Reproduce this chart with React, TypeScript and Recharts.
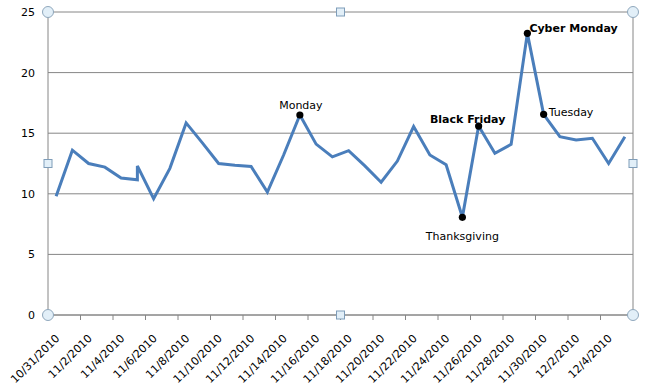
import React from 'react';
import { LineChart, Line, XAxis, YAxis, CartesianGrid, ReferenceLine, ReferenceDot, LabelList } from 'recharts';

const dayLabels = [
  '10/31/2010', '11/1/2010', '11/2/2010', '11/3/2010', '11/4/2010', '11/5/2010', '11/6/2010',
  '11/7/2010', '11/8/2010', '11/9/2010', '11/10/2010', '11/11/2010', '11/12/2010', '11/13/2010',
  '11/14/2010', '11/15/2010', '11/16/2010', '11/17/2010', '11/18/2010', '11/19/2010', '11/20/2010',
  '11/21/2010', '11/22/2010', '11/23/2010', '11/24/2010', '11/25/2010', '11/26/2010', '11/27/2010',
  '11/28/2010', '11/29/2010', '11/30/2010', '12/1/2010', '12/2/2010', '12/3/2010', '12/4/2010', '12/5/2010',
];

// day index (into dayLabels) of each recorded point; 11/5 has two readings
const pointDays = [
  0, 1, 2, 3, 4, 5, 5, 6, 7, 8, 9, 10, 11, 12, 13, 14, 15, 16, 17, 18, 19,
  20, 21, 22, 23, 24, 25, 26, 27, 28, 29, 30, 31, 32, 33, 34, 35,
];

const pointValues = [
  9.8, 13.6, 12.5, 12.2, 11.3, 11.15, 12.3, 9.6, 12.1, 15.85, 14.2, 12.5, 12.35, 12.25, 10.15, 13.2,
  16.5, 14.1, 13.05, 13.56, 12.3, 10.95, 12.7, 15.55, 13.2, 12.4, 8.06, 15.59, 13.34, 14.08, 23.24,
  16.56, 14.71, 14.44, 14.58, 12.5, 14.71,
];

const noteDays = [15, 25, 26, 29, 30];
const noteTexts = ['Monday', 'Thanksgiving', 'Black Friday', 'Cyber Monday', 'Tuesday'];

const yTicks = [0, 5, 10, 15, 20, 25];

const FONT = "'DejaVu Sans', Verdana, sans-serif";
const GRID = '#868686';
const LINE = '#4A7EBB';

const data = pointDays.map((d, i) => {
  const n = noteDays.indexOf(d);
  return { day: d, value: pointValues[i], note: n >= 0 ? noteTexts[n] : '' };
});

const xMin = -0.5;
const xMax = dayLabels.length - 0.5;
const boundaryTicks: number[] = [];
for (let i = 0; i <= dayLabels.length; i += 2) boundaryTicks.push(i - 0.5);

function DateTick(props: any) {
  const { x, y, payload, width } = props;
  const idx = Math.round(payload.value + 0.5);
  const label = dayLabels[idx];
  if (!label) return <g />;
  const w = typeof width === 'number' ? width : 585;
  const half = w / dayLabels.length / 2;
  const ax = x + half + 4;
  const ay = y + 17;
  return (
    <text x={ax} y={ay} transform={`rotate(-45 ${ax} ${ay})`} textAnchor="end" fontSize={11} fontFamily={FONT} fill="#000">
      {label}
    </text>
  );
}

const placements: Record<string, { dx: number; dy: number; anchor: string; bold: boolean }> = {
  Monday: { dx: 1, dy: -6, anchor: 'middle', bold: false },
  Thanksgiving: { dx: 0, dy: 23, anchor: 'middle', bold: false },
  'Black Friday': { dx: -11, dy: -3, anchor: 'middle', bold: true },
  'Cyber Monday': { dx: 2, dy: -1.5, anchor: 'start', bold: true },
  Tuesday: { dx: 5, dy: 1.5, anchor: 'start', bold: false },
};

function renderNote(props: any) {
  const { value, viewBox } = props;
  if (!value) return null;
  const x = props.x ?? viewBox?.x;
  const y = props.y ?? viewBox?.y;
  const p = placements[value];
  if (!p) return null;
  return (
    <text x={x + p.dx} y={y + p.dy} textAnchor={p.anchor as any} fontSize={11} fontFamily={FONT}
      fontWeight={p.bold ? 'bold' : 'normal'} fill="#000">
      {value}
    </text>
  );
}

function renderDot(props: any) {
  const { cx, cy, payload, index } = props;
  if (!payload || !payload.note) return <g key={`d${index}`} />;
  return <circle key={`d${index}`} cx={cx} cy={cy} r={3.6} fill="#000" />;
}

const CornerHandle = (props: any) => (
  <circle cx={props.cx} cy={props.cy} r={5.5} fill="#E2EFF8" stroke="#8FA7BC" strokeWidth={1} />
);
const SideHandle = (props: any) => (
  <rect x={props.cx - 4} y={props.cy - 4} width={8} height={8} fill="#E2EFF8" stroke="#7F9DB9" strokeWidth={1} />
);

export default function App() {
  return (
    <div style={{ position: 'absolute', left: 0, top: 0, background: '#fff' }}>
      <LineChart width={648} height={386} data={data} margin={{ top: 12, right: 15, bottom: 0, left: 0 }}>
        <CartesianGrid horizontal vertical={false} stroke={GRID} strokeWidth={1} />
        <XAxis
          type="number"
          dataKey="day"
          domain={[xMin, xMax]}
          ticks={boundaryTicks}
          interval={0}
          allowDataOverflow
          height={71}
          stroke={GRID}
          tickSize={5}
          tick={<DateTick />}
        />
        <YAxis
          domain={[0, 25]}
          ticks={yTicks}
          interval={0}
          width={48}
          tickLine={false}
          stroke={GRID}
          tickMargin={7}
          tick={{ fill: '#000', fontSize: 11, fontFamily: FONT }}
        />
        <ReferenceLine x={xMax} stroke={GRID} />
        <Line
          type="linear"
          dataKey="value"
          stroke={LINE}
          strokeWidth={3}
          dot={renderDot}
          activeDot={false}
          isAnimationActive={false}
        >
          <LabelList dataKey="note" content={renderNote} />
        </Line>
        <ReferenceDot x={xMin} y={25} r={5.5} shape={CornerHandle} />
        <ReferenceDot x={xMax} y={25} r={5.5} shape={CornerHandle} />
        <ReferenceDot x={xMin} y={0} r={5.5} shape={CornerHandle} />
        <ReferenceDot x={xMax} y={0} r={5.5} shape={CornerHandle} />
        <ReferenceDot x={(xMin + xMax) / 2} y={25} r={4} shape={SideHandle} />
        <ReferenceDot x={(xMin + xMax) / 2} y={0} r={4} shape={SideHandle} />
        <ReferenceDot x={xMin} y={12.5} r={4} shape={SideHandle} />
        <ReferenceDot x={xMax} y={12.5} r={4} shape={SideHandle} />
      </LineChart>
    </div>
  );
}
